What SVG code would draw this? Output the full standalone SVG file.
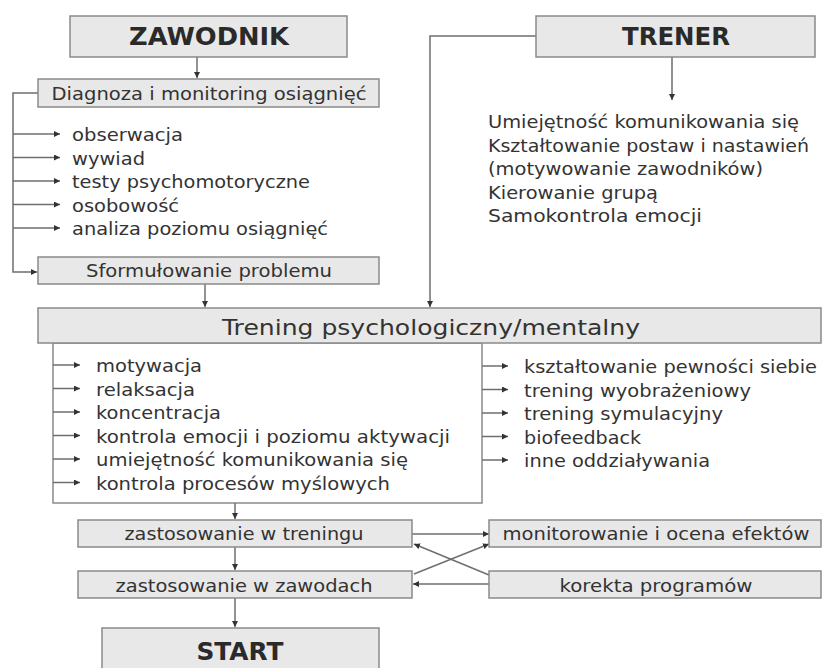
<svg xmlns="http://www.w3.org/2000/svg" width="822" height="668" viewBox="0 0 822 668">
<style>
.box{fill:#e8e8e8;stroke:#8a8a8a;stroke-width:1.5}
.wbox{fill:#ffffff;stroke:#8a8a8a;stroke-width:1.5}
.t{font-family:"DejaVu Sans",Verdana,sans-serif;fill:#333333;font-size:17px}
.c{text-anchor:middle}
.h{font-weight:bold;font-size:24px;fill:#2a2a2a}
.big{font-size:22px}
.ln{fill:none;stroke:#6e6e6e;stroke-width:1.5}
</style>
<defs>
<marker id="ar" viewBox="0 0 10 10" refX="10" refY="5" markerWidth="6" markerHeight="6" markerUnits="userSpaceOnUse" orient="auto"><path d="M0,0L10,5L0,10z" fill="#333"/></marker>
</defs>
<rect width="822" height="668" fill="#ffffff"/>

<g id="trening-panel"><rect class="wbox" x="53" y="343" width="429" height="160"/></g>

<g id="connectors">
<path class="ln" d="M197,57V78" marker-end="url(#ar)"/>
<path class="ln" d="M38,93H13V272H37" marker-end="url(#ar)"/>
<path class="ln" d="M13,134H60" marker-end="url(#ar)"/>
<path class="ln" d="M13,157.5H60" marker-end="url(#ar)"/>
<path class="ln" d="M13,181H60" marker-end="url(#ar)"/>
<path class="ln" d="M13,204.5H60" marker-end="url(#ar)"/>
<path class="ln" d="M13,228H60" marker-end="url(#ar)"/>
<path class="ln" d="M205,284V307" marker-end="url(#ar)"/>
<path class="ln" d="M536,36H430V307" marker-end="url(#ar)"/>
<path class="ln" d="M672,57V100" marker-end="url(#ar)"/>
<path class="ln" d="M53,365H80" marker-end="url(#ar)"/>
<path class="ln" d="M53,388.5H80" marker-end="url(#ar)"/>
<path class="ln" d="M53,412H80" marker-end="url(#ar)"/>
<path class="ln" d="M53,435.5H80" marker-end="url(#ar)"/>
<path class="ln" d="M53,459H80" marker-end="url(#ar)"/>
<path class="ln" d="M53,482.5H80" marker-end="url(#ar)"/>
<path class="ln" d="M482,366H508" marker-end="url(#ar)"/>
<path class="ln" d="M482,389.5H508" marker-end="url(#ar)"/>
<path class="ln" d="M482,413H508" marker-end="url(#ar)"/>
<path class="ln" d="M482,436.5H508" marker-end="url(#ar)"/>
<path class="ln" d="M482,460H508" marker-end="url(#ar)"/>
<path class="ln" d="M235,503V519" marker-end="url(#ar)"/>
<path class="ln" d="M235,547V570" marker-end="url(#ar)"/>
<path class="ln" d="M235,598V627" marker-end="url(#ar)"/>
<path class="ln" d="M412,534H489" marker-end="url(#ar)"/>
<path class="ln" d="M489,584H413" marker-end="url(#ar)"/>
<path class="ln" d="M489,575L414,544" marker-end="url(#ar)"/>
<path class="ln" d="M414,574L489,544" marker-end="url(#ar)"/>
</g>

<g id="zawodnik"><rect class="box" x="70" y="16" width="277" height="41"/><text class="t c h" x="209" y="45" textLength="160" lengthAdjust="spacingAndGlyphs">ZAWODNIK</text></g>
<g id="trener"><rect class="box" x="536" y="16" width="279" height="41"/><text class="t c h" x="676" y="45" textLength="108" lengthAdjust="spacingAndGlyphs">TRENER</text></g>
<g id="diagnoza"><rect class="box" x="38" y="79" width="341" height="28"/><text class="t c" x="209" y="100" textLength="315" lengthAdjust="spacingAndGlyphs">Diagnoza i monitoring osiągnięć</text></g>
<g id="diag-list">
<text class="t" x="72" y="141" textLength="111" lengthAdjust="spacingAndGlyphs">obserwacja</text>
<text class="t" x="72" y="164.5" textLength="73" lengthAdjust="spacingAndGlyphs">wywiad</text>
<text class="t" x="72" y="188" textLength="238" lengthAdjust="spacingAndGlyphs">testy psychomotoryczne</text>
<text class="t" x="72" y="211.5" textLength="107" lengthAdjust="spacingAndGlyphs">osobowość</text>
<text class="t" x="72" y="235" textLength="256" lengthAdjust="spacingAndGlyphs">analiza poziomu osiągnięć</text>
</g>
<g id="trener-list">
<text class="t" x="488" y="128" textLength="311" lengthAdjust="spacingAndGlyphs">Umiejętność komunikowania się</text>
<text class="t" x="488" y="151.5" textLength="321" lengthAdjust="spacingAndGlyphs">Kształtowanie postaw i nastawień</text>
<text class="t" x="488" y="175" textLength="275" lengthAdjust="spacingAndGlyphs">(motywowanie zawodników)</text>
<text class="t" x="488" y="198.5" textLength="170" lengthAdjust="spacingAndGlyphs">Kierowanie grupą</text>
<text class="t" x="488" y="222" textLength="214" lengthAdjust="spacingAndGlyphs">Samokontrola emocji</text>
</g>
<g id="sformulowanie"><rect class="box" x="38" y="257" width="341" height="27"/><text class="t c" x="209" y="277" textLength="246" lengthAdjust="spacingAndGlyphs">Sformułowanie problemu</text></g>
<g id="trening">
<rect class="box" x="38" y="308" width="783" height="35"/>
<text class="t c big" x="431" y="335" textLength="418" lengthAdjust="spacingAndGlyphs">Trening psychologiczny/mentalny</text>
</g>
<g id="trening-list-left">
<text class="t" x="96" y="372" textLength="106" lengthAdjust="spacingAndGlyphs">motywacja</text>
<text class="t" x="96" y="395.5" textLength="99" lengthAdjust="spacingAndGlyphs">relaksacja</text>
<text class="t" x="96" y="419" textLength="125" lengthAdjust="spacingAndGlyphs">koncentracja</text>
<text class="t" x="96" y="442.5" textLength="354" lengthAdjust="spacingAndGlyphs">kontrola emocji i poziomu aktywacji</text>
<text class="t" x="96" y="466" textLength="312" lengthAdjust="spacingAndGlyphs">umiejętność komunikowania się</text>
<text class="t" x="96" y="489.5" textLength="294" lengthAdjust="spacingAndGlyphs">kontrola procesów myślowych</text>
</g>
<g id="trening-list-right">
<text class="t" x="524" y="373" textLength="293" lengthAdjust="spacingAndGlyphs">kształtowanie pewności siebie</text>
<text class="t" x="524" y="396.5" textLength="227" lengthAdjust="spacingAndGlyphs">trening wyobrażeniowy</text>
<text class="t" x="524" y="420" textLength="199" lengthAdjust="spacingAndGlyphs">trening symulacyjny</text>
<text class="t" x="524" y="443.5" textLength="117" lengthAdjust="spacingAndGlyphs">biofeedback</text>
<text class="t" x="524" y="467" textLength="186" lengthAdjust="spacingAndGlyphs">inne oddziaływania</text>
</g>
<g id="zast-trening"><rect class="box" x="78" y="520" width="334" height="27"/><text class="t c" x="244" y="540" textLength="239" lengthAdjust="spacingAndGlyphs">zastosowanie w treningu</text></g>
<g id="zast-zawody"><rect class="box" x="78" y="571" width="334" height="27"/><text class="t c" x="244" y="592" textLength="257" lengthAdjust="spacingAndGlyphs">zastosowanie w zawodach</text></g>
<g id="monitorowanie"><rect class="box" x="489" y="520" width="332" height="27"/><text class="t c" x="656" y="540" textLength="307" lengthAdjust="spacingAndGlyphs">monitorowanie i ocena efektów</text></g>
<g id="korekta"><rect class="box" x="489" y="571" width="332" height="27"/><text class="t c" x="656" y="592" textLength="193" lengthAdjust="spacingAndGlyphs">korekta programów</text></g>
<g id="start"><rect class="box" x="102" y="628" width="277" height="45"/><text class="t c h" x="240" y="660" textLength="87" lengthAdjust="spacingAndGlyphs">START</text></g>
</svg>
